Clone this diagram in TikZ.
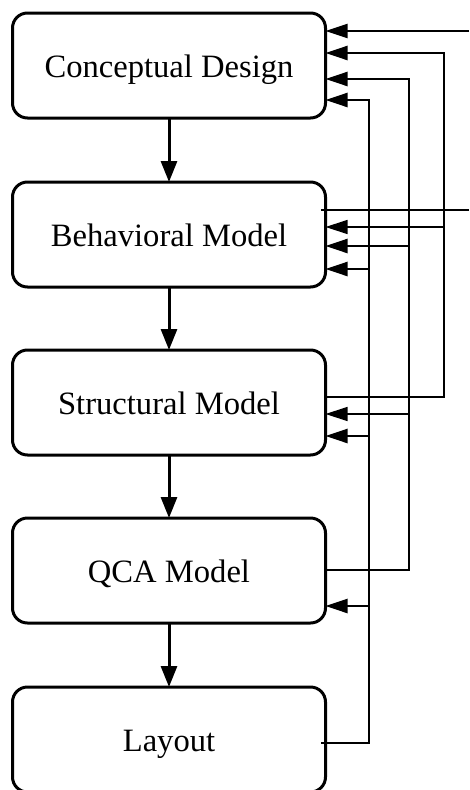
\documentclass[tikz,border=0pt]{standalone}
\usepackage{fontspec}
\setmainfont{Liberation Serif}
\usetikzlibrary{arrows.meta}

\tikzset{
  stage/.style={draw, line width=3pt, rounded corners=15pt,
    minimum width=313pt, minimum height=105pt, inner sep=0pt, outer sep=0pt,
    text height=24pt, text depth=0pt,
    font=\fontsize{32.6}{39}\selectfont},
  flow/.style={line width=3pt, -{Triangle[length=21pt,width=16pt]}},
  fbtip/.style={-{Triangle[length=22pt,width=14pt]}},
  bus/.style={line width=2.4pt},
  thinbus/.style={line width=1.3pt},
  ext/.style={line width=1.9pt},
}

\begin{document}
\begin{tikzpicture}[x=1pt, y=-1pt]
  \useasboundingbox (0,0) rectangle (469,790);
  \clip (0,0) rectangle (469,790);

  % design stages
  \node[stage] (cd) at (169,65.5)  {Conceptual Design};
  \node[stage] (bm) at (169,234.5) {Behavioral Model};
  \node[stage] (sm) at (169,402.5) {Structural Model};
  \node[stage] (qm) at (169,570.5) {QCA Model};
  \node[stage] (ly) at (169,739.5) {Layout};

  % forward flow
  \draw[flow] (cd.south) -- (bm.north);
  \draw[flow] (bm.south) -- (sm.north);
  \draw[flow] (sm.south) -- (qm.north);
  \draw[flow] (qm.south) -- (ly.north);

  % feedback bus points
  \coordinate (s0) at (444,397);
  \coordinate (s1) at (444,53);
  \coordinate (s2) at (444,227);
  \coordinate (q0) at (409,570);
  \coordinate (q1) at (409,79);
  \coordinate (q2) at (409,246);
  \coordinate (q3) at (409,414);
  \coordinate (l0) at (369,743);
  \coordinate (l1) at (369,100);
  \coordinate (l2) at (369,269);
  \coordinate (l3) at (369,436);
  \coordinate (l4) at (369,606);
  \coordinate (inA) at (469,31);
  \coordinate (inB) at (469,210);

  % external inputs
  \draw[ext,fbtip] (inA) -- (cd.east |- inA);
  \draw[ext,shorten >=-4.5pt] (inB) -- (bm.east |- inB);

  % feedback from the structural model
  \draw[bus,fbtip] (sm.east |- s0) -- (s0) -- (s1) -- (cd.east |- s1);
  \draw[thinbus,fbtip] (s2) -- (bm.east |- s2);

  % feedback from the QCA model
  \draw[bus,fbtip] (qm.east |- q0) -- (q0) -- (q1) -- (cd.east |- q1);
  \draw[bus,fbtip] (q2) -- (bm.east |- q2);
  \draw[thinbus,fbtip] (q3) -- (sm.east |- q3);

  % feedback from the layout
  \draw[bus,fbtip,shorten <=-4.5pt] (ly.east |- l0) -- (l0) -- (l1) -- (cd.east |- l1);
  \draw[bus,fbtip] (l2) -- (bm.east |- l2);
  \draw[bus,fbtip] (l3) -- (sm.east |- l3);
  \draw[bus,fbtip] (l4) -- (qm.east |- l4);
\end{tikzpicture}
\end{document}
